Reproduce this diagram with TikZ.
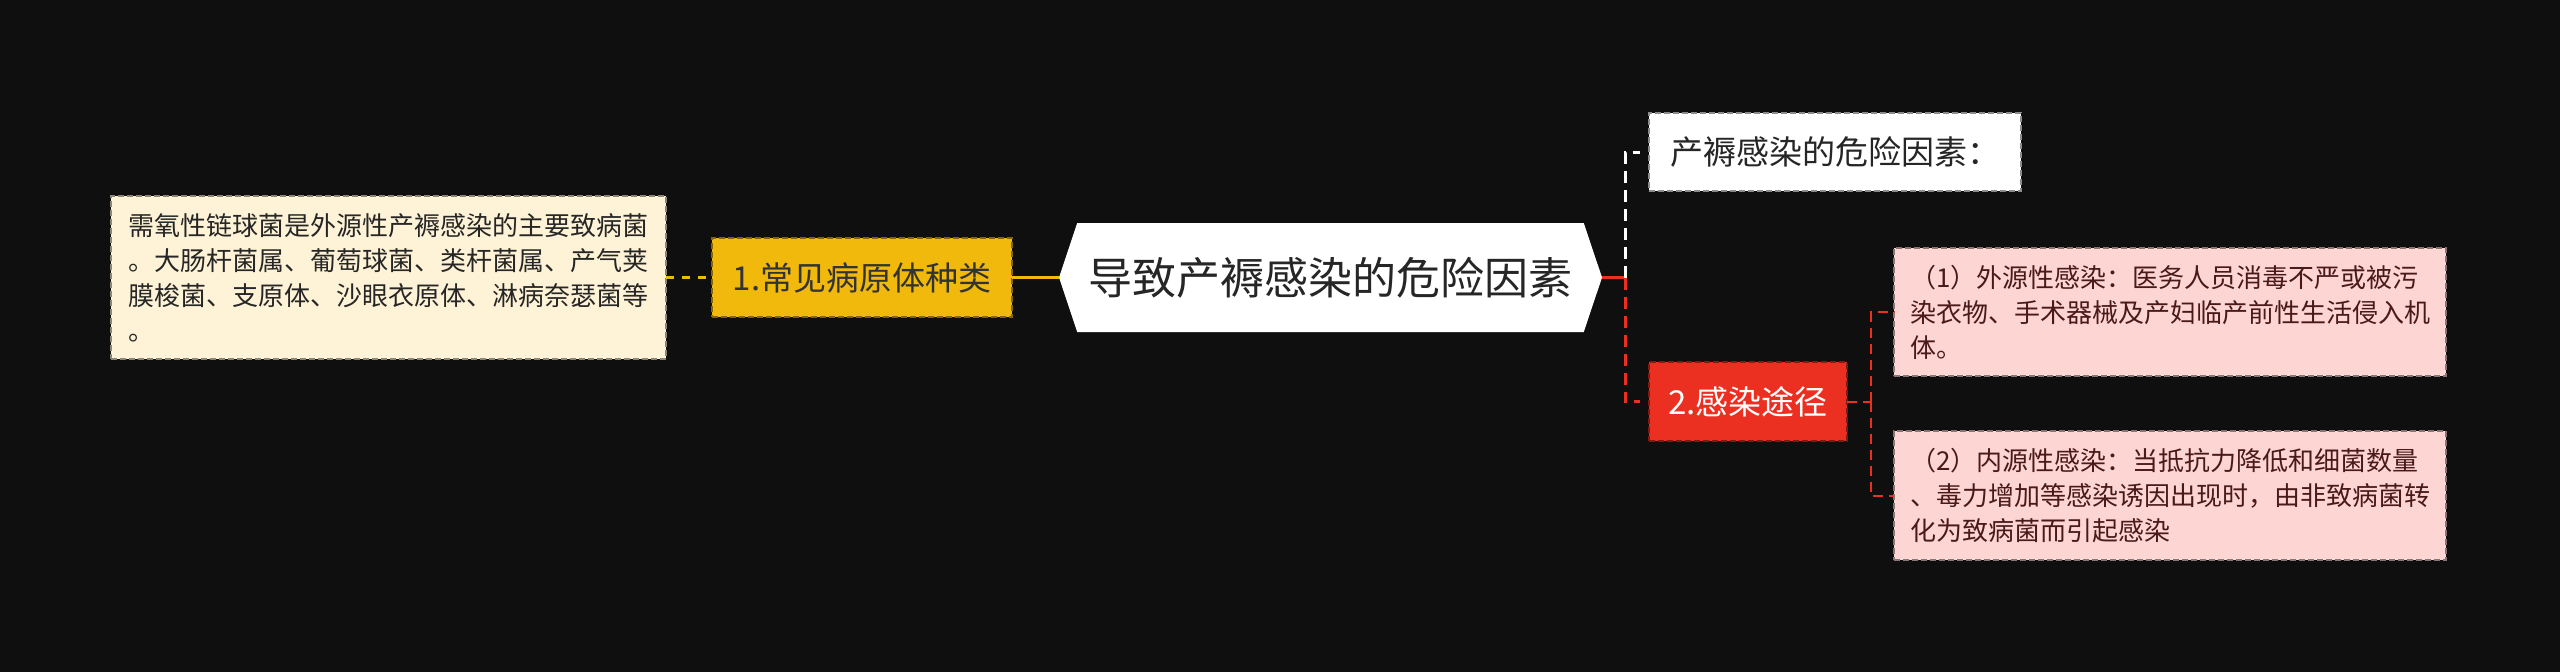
\documentclass[tikz,border=0pt]{standalone}
\usepackage{fontspec}
\setmainfont{Noto Sans CJK SC}
\usetikzlibrary{shapes.symbols}
\definecolor{bgblack}{HTML}{0F0F0F}
\definecolor{topicyellow}{HTML}{F0B90C}
\definecolor{topicred}{HTML}{EB3021}
\definecolor{leafcream}{HTML}{FEF3D6}
\definecolor{leafpink}{HTML}{FDD5D3}
\definecolor{pinktext}{HTML}{4A1A1A}
\tikzset{every picture/.append style={x=1pt, y=-1pt}}
\tikzset{
    every node/.style={inner sep=0pt, outer sep=0pt},
    box/.style={rectangle, fill=#1, draw=#1!55!black, dash pattern=on 6pt off 3pt,
        line width=1.2pt},
    topic/.style={box=#1, minimum height=79, font=\fontsize{33}{40}\selectfont},
    leaf/.style={box=#1, align=left, font=\fontsize{26}{35}\selectfont},
    link/.style={line width=3pt}
}
\begin{document}
\begin{tikzpicture}
  \fill [bgblack] (0,0) rectangle (2560,672);
  \useasboundingbox (0,0) rectangle (2560,672);

  \node (root) [signal, signal to=west and east, signal pointer angle=143,
    fill=white, minimum width=543, minimum height=109,
    font=\fontsize{44}{52}\selectfont, text=black!85] at (1330.5, 277.5) {导致产褥感染的危险因素};
  \node (c_1) [topic=topicyellow, minimum width=300, text=black!80] at (862, 277.5) {1.常见病原体种类};
  \node (a) [topic=white, minimum width=372, minimum height=78, text=black!85] at (1835, 152) {产褥感染的危险因素：};
  \node (c_2) [topic=topicred, minimum width=198, text=white] at (1748, 401.5) {2.感染途径};
  \node (l) [leaf=leafcream, minimum width=555, minimum height=163, text=black!85] at (388.5, 277.5)
    {需氧性链球菌是外源性产褥感染的主要致病菌\\。大肠杆菌属、葡萄球菌、类杆菌属、产气荚\\膜梭菌、支原体、沙眼衣原体、淋病奈瑟菌等\\。};
  \node (l_1) [leaf=leafpink, minimum width=552, minimum height=128, text=pinktext] at (2170, 312)
    {（1）外源性感染：医务人员消毒不严或被污\\染衣物、手术器械及产妇临产前性生活侵入机\\体。};
  \node (l_2) [leaf=leafpink, minimum width=552, minimum height=129, text=pinktext] at (2170, 495.5)
    {（2）内源性感染：当抵抗力降低和细菌数量\\、毒力增加等感染诱因出现时，由非致病菌转\\化为致病菌而引起感染};
  \coordinate (fork) at (1625, 277.5);
  \coordinate (fork_2) at (1871, 401.5);

  \draw [link, topicyellow, dash pattern=on 8pt off 8pt, line width=2.5pt] (l.east) -- (c_1.west);
  \draw [link, topicyellow] (c_1.east) -- (root.west);
  \draw [link, topicred] (root.east) -- (fork);
  \draw [link, white, dash pattern=on 12pt off 7pt, shorten >=9pt] (fork) |- (a.west);
  \draw [link, topicred, dash pattern=on 12pt off 7pt, shorten >=9pt] (fork) |- (c_2.west);
  \draw [topicred, line width=2pt, dash pattern=on 10pt off 6pt] (c_2.east) -- (fork_2);
  \draw [topicred, line width=2pt, dash pattern=on 10pt off 6pt] (fork_2) |- (l_1.west);
  \draw [topicred, line width=2pt, dash pattern=on 10pt off 6pt] (fork_2) |- (l_2.west);
\end{tikzpicture}
\end{document}
